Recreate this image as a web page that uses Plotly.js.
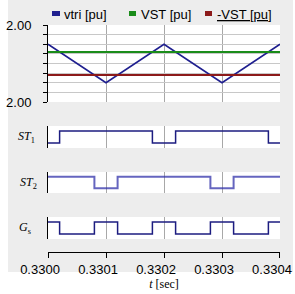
<!DOCTYPE html>
<html><head><meta charset="utf-8">
<script src="https://cdn.plot.ly/plotly-3.0.1.min.js"></script>
<style>html,body{margin:0;padding:0;background:#fff}
#bg{position:absolute;left:8px;top:0;width:285px;height:272px;background:#ededed}
#c{position:absolute;left:0;top:0;width:295px;height:294px}</style>
</head><body><div id="bg"></div><div id="c"></div>
<script>
// data
const triT = [0.3300, 0.3301, 0.3302, 0.3303, 0.3304];
const vtri = [1, -1, 1, -1, 1];
const vstT = [0.3300, 0.3304];
const vst = [0.6, 0.6];
const nvst = [-0.6, -0.6];
const st1T = [0.3300, 0.33002, 0.33018, 0.33022, 0.33038, 0.3304];
const st1 = [0, 1, 0, 1, 0, 0];
const st2T = [0.3300, 0.33008, 0.33012, 0.33028, 0.33032, 0.3304];
const st2 = [1, 0, 1, 0, 1, 1];
const gsT = [0.3300, 0.33002, 0.33008, 0.33012, 0.33018, 0.33022, 0.33028, 0.33032, 0.33038, 0.3304];
const gs = [1, 0, 1, 0, 1, 0, 1, 0, 1, 1];
const yTicks = [-2, -1.5, -1, -0.5, 0, 0.5, 1, 1.5, 2];
const yTickText = ['2.00', '', '', '', '', '', '', '', '2.00'];
const legendNames = ['vtri [pu]', 'VST [pu]', '<u>-VST [pu]</u>'];
const colors = ['#1f1f8f', '#1a8c1a', '#8c1a1a'];

const W = 295, H = 294;
const px = v => v / W, py = v => 1 - v / H;
const xr = [0.32999999, 0.33040001];
const xdom = [px(48), px(280)];
const navy = '#1c1c80';

const traces = [
  {x: triT, y: vtri, mode: 'lines', line: {color: colors[0], width: 1.6}, xaxis: 'x', yaxis: 'y'},
  {x: vstT, y: vst, mode: 'lines', line: {color: colors[1], width: 2}, xaxis: 'x', yaxis: 'y'},
  {x: vstT, y: nvst, mode: 'lines', line: {color: colors[2], width: 2}, xaxis: 'x', yaxis: 'y'},
  {x: st1T, y: st1, mode: 'lines', line: {color: navy, width: 1.5, shape: 'hv'}, xaxis: 'x2', yaxis: 'y2'},
  {x: st2T, y: st2, mode: 'lines', line: {color: 'rgba(50,50,170,0.75)', width: 2, shape: 'hv'}, xaxis: 'x3', yaxis: 'y3'},
  {x: gsT, y: gs, mode: 'lines', line: {color: navy, width: 1.5, shape: 'hv'}, xaxis: 'x4', yaxis: 'y4'}
];

const gridX = {range: xr, domain: xdom, tickmode: 'linear', tick0: 0.33, dtick: 0.0001, showgrid: true,
  gridcolor: '#a8a8a8', gridwidth: 1, zeroline: false, showline: false, ticks: '', showticklabels: false, fixedrange: true};
const sigY = dom => ({domain: dom, range: [-0.42, 1.42], showgrid: false, zeroline: false, showline: true,
  linecolor: '#000', linewidth: 1, ticks: '', showticklabels: false, fixedrange: true});

const layout = {
  width: W, height: H, margin: {l: 0, r: 0, t: 0, b: 0},
  paper_bgcolor: 'rgba(0,0,0,0)', plot_bgcolor: '#ffffff', showlegend: false,
  font: {family: 'Liberation Sans, Arial, sans-serif', size: 13, color: '#000'},
  xaxis: Object.assign({}, gridX, {anchor: 'y'}),
  yaxis: {domain: [py(102), py(25)], range: [-2, 2], tickmode: 'array', tickvals: yTicks, ticktext: yTickText,
    ticks: 'outside', ticklen: 4, tickcolor: '#000', showline: true, linecolor: '#000', linewidth: 1,
    showgrid: true, gridcolor: '#c8c8c8', zeroline: false, tickfont: {size: 13}, ticklabelstandoff: 9, fixedrange: true},
  xaxis2: Object.assign({}, gridX, {anchor: 'y2', matches: 'x'}),
  yaxis2: sigY([py(148), py(126)]),
  xaxis3: Object.assign({}, gridX, {anchor: 'y3', matches: 'x'}),
  yaxis3: sigY([py(193), py(172)]),
  xaxis4: Object.assign({}, gridX, {anchor: 'free', position: py(252), matches: 'x', showline: true, linecolor: '#000',
    ticks: 'outside', ticklen: 5, tickcolor: '#000', showticklabels: true, tickformat: '.4f', ticklabelshift: -8,
    tickfont: {size: 13},
    title: {text: '<i>t</i> [sec]', font: {family: 'Liberation Serif, serif', size: 12}, standoff: 2}}),
  yaxis4: sigY([py(239), py(217)]),
  shapes: [
    {type: 'rect', xref: 'paper', yref: 'paper', x0: px(52), x1: px(60), y0: py(16), y1: py(11), fillcolor: colors[0], line: {width: 0}},
    {type: 'rect', xref: 'paper', yref: 'paper', x0: px(129), x1: px(136), y0: py(16), y1: py(11), fillcolor: colors[1], line: {width: 0}},
    {type: 'rect', xref: 'paper', yref: 'paper', x0: px(205), x1: px(212), y0: py(16), y1: py(11), fillcolor: colors[2], line: {width: 0}}
  ],
  annotations: [
    {text: legendNames[0], x: px(62), y: py(14), xref: 'paper', yref: 'paper', xanchor: 'left', yanchor: 'middle', showarrow: false, font: {size: 13}},
    {text: legendNames[1], x: px(139), y: py(14), xref: 'paper', yref: 'paper', xanchor: 'left', yanchor: 'middle', showarrow: false, font: {size: 13}},
    {text: legendNames[2], x: px(215), y: py(14), xref: 'paper', yref: 'paper', xanchor: 'left', yanchor: 'middle', showarrow: false, font: {size: 13}},
    {text: '<i>ST</i><sub>1</sub>', x: px(16), y: py(137), xref: 'paper', yref: 'paper', xanchor: 'left', yanchor: 'middle', showarrow: false, font: {family: 'Liberation Serif, serif', size: 12}},
    {text: '<i>ST</i><sub>2</sub>', x: px(18), y: py(183), xref: 'paper', yref: 'paper', xanchor: 'left', yanchor: 'middle', showarrow: false, font: {family: 'Liberation Serif, serif', size: 12}},
    {text: '<i>G</i><sub>s</sub>', x: px(17), y: py(228), xref: 'paper', yref: 'paper', xanchor: 'left', yanchor: 'middle', showarrow: false, font: {family: 'Liberation Serif, serif', size: 12}}
  ]
};
Plotly.newPlot('c', traces, layout, {displayModeBar: false, staticPlot: true});
</script></body></html>
